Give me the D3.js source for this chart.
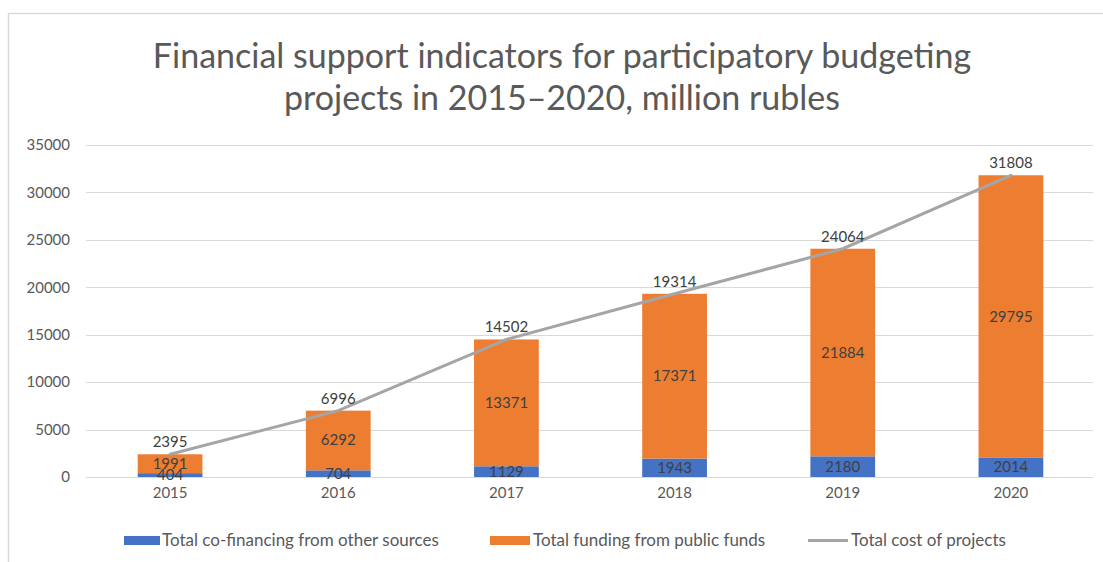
<!DOCTYPE html>
<html><head><meta charset="utf-8">
<script src="https://cdn.jsdelivr.net/npm/d3@7"></script>
<style>body{margin:0;background:#fff}svg{display:block}</style>
</head><body>
<script>
const years = ["2015","2016","2017","2018","2019","2020"];
const coFinancing = [404, 704, 1129, 1943, 2180, 2014];
const publicFunds = [1991, 6292, 13371, 17371, 21884, 29795];
const totalCost = [2395, 6996, 14502, 19314, 24064, 31808];
const yTicks = [0, 5000, 10000, 15000, 20000, 25000, 30000, 35000];
const seriesNames = ["Total co-financing from other sources", "Total funding from public funds", "Total cost of projects"];

const W = 1103, H = 562;
const font = "Lato, 'Open Sans', sans-serif";
const svg = d3.select("body").append("svg").attr("width", W).attr("height", H);

// frame
svg.append("line").attr("x1", 8.5).attr("x2", 8.5).attr("y1", 13).attr("y2", H).attr("stroke", "#d9d9d9").attr("stroke-width", 1.5);
svg.append("line").attr("x1", 8).attr("x2", W).attr("y1", 13.5).attr("y2", 13.5).attr("stroke", "#d9d9d9").attr("stroke-width", 1.5);

const x = d3.scaleBand().domain(years).range([86, 1095]).paddingInner(0.615).paddingOuter(0.3075);
const y = d3.scaleLinear().domain([0, 35000]).range([477, 145]);

// grid
svg.append("g").selectAll("line").data(yTicks).join("line")
  .attr("x1", 86).attr("x2", 1093)
  .attr("y1", d => Math.round(y(d)) + 0.5).attr("y2", d => Math.round(y(d)) + 0.5)
  .attr("stroke", "#d9d9d9").attr("stroke-width", 1);

// y axis labels
const yAxis = d3.axisLeft(y).tickValues(yTicks).tickFormat(d3.format("d")).tickSize(0).tickPadding(0);
const gy = svg.append("g").attr("transform", "translate(70,0)").call(yAxis);
gy.select(".domain").remove();
gy.selectAll("text").attr("font-family", font).attr("font-size", 15).attr("fill", "#595959");

// x axis labels
const xAxis = d3.axisBottom(x).tickSize(0).tickPadding(0);
const gx = svg.append("g").attr("transform", "translate(0,487)").call(xAxis);
gx.select(".domain").remove();
gx.selectAll("text").attr("font-family", font).attr("font-size", 15).attr("fill", "#595959");

// bars
const data = years.map((yr, i) => ({yr, a: coFinancing[i], b: publicFunds[i], t: totalCost[i]}));
svg.append("g").selectAll("rect").data(data).join("rect")
  .attr("x", d => x(d.yr)).attr("width", x.bandwidth())
  .attr("y", d => y(d.a)).attr("height", d => y(0) - y(d.a)).attr("fill", "#4472C4");
svg.append("g").selectAll("rect").data(data).join("rect")
  .attr("x", d => x(d.yr)).attr("width", x.bandwidth())
  .attr("y", d => y(d.a + d.b)).attr("height", d => y(d.a) - y(d.a + d.b)).attr("fill", "#ED7D31");

// line
const cx = d => x(d.yr) + x.bandwidth() / 2;
svg.append("path").datum(data)
  .attr("d", d3.line().x(cx).y(d => y(d.t)))
  .attr("fill", "none").attr("stroke", "#A5A5A5").attr("stroke-width", 3).attr("stroke-linecap", "round");

// labels
const lab = svg.append("g").attr("font-family", font).attr("font-size", 15).attr("fill", "#404040").attr("text-anchor", "middle");
lab.selectAll(".la").data(data).join("text").attr("class", "la")
  .attr("x", cx).attr("y", d => (y(0) + y(d.a)) / 2 + 5).text(d => d.a);
lab.selectAll(".lb").data(data).join("text").attr("class", "lb")
  .attr("x", cx).attr("y", d => (y(d.a) + y(d.a + d.b)) / 2 + 5).text(d => d.b);
lab.selectAll(".lt").data(data).join("text").attr("class", "lt")
  .attr("x", cx).attr("y", d => y(d.t) - 7).text(d => d.t);

// title
const title = svg.append("text").attr("font-family", font).attr("font-size", 34).attr("fill", "#595959").attr("text-anchor", "middle");
title.append("tspan").attr("x", 562).attr("y", 68).text("Financial support indicators for participatory budgeting");
title.append("tspan").attr("x", 562).attr("y", 110).text("projects in 2015–2020, million rubles");

// legend
const lg = svg.append("g").attr("font-family", font).attr("font-size", 17).attr("fill", "#595959");
const legX = [124, 490, 808];
lg.append("rect").attr("x", legX[0]).attr("y", 536).attr("width", 36).attr("height", 9).attr("fill", "#4472C4");
lg.append("rect").attr("x", legX[1]).attr("y", 536).attr("width", 40).attr("height", 9).attr("fill", "#ED7D31");
lg.append("line").attr("x1", legX[2]).attr("x2", legX[2] + 40).attr("y1", 540.5).attr("y2", 540.5).attr("stroke", "#A5A5A5").attr("stroke-width", 3);
lg.selectAll("text").data(seriesNames).join("text")
  .attr("x", (d, i) => legX[i] + (i === 0 ? 38 : 43)).attr("y", 546).text(d => d);
</script>
</body></html>
